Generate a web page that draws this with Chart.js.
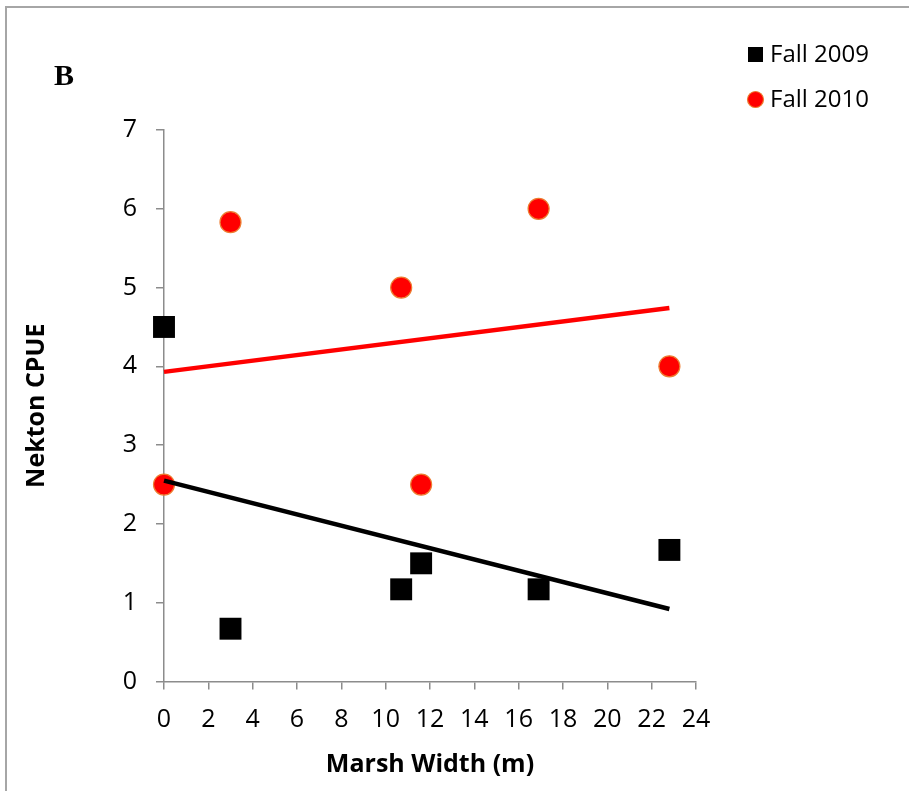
<!DOCTYPE html>
<html>
<head>
<meta charset="utf-8">
<title>Nekton CPUE vs Marsh Width</title>
<script src="https://cdn.jsdelivr.net/npm/chart.js@4.4.1/dist/chart.umd.min.js"></script>
<style>
    body { margin: 0; background: #fff; }
    #wrap { position: relative; width: 909px; height: 791px; }
</style>
</head>
<body>
<div id="wrap"><canvas id="chart" width="909" height="791"></canvas></div>
<script>
// Data
const width2009 = [0, 3, 10.7, 11.6, 16.9, 22.8];
const cpue2009 = [4.5, 0.67, 1.17, 1.5, 1.17, 1.67];
const width2010 = [0, 3, 10.7, 11.6, 16.9, 22.8];
const cpue2010 = [2.5, 5.83, 5, 2.5, 6, 4];

// Trend line end points
const trendX = [0, 22.8];
const trend2009 = [2.55, 0.92];
const trend2010 = [3.93, 4.74];

const seriesNames = ['Fall 2009', 'Fall 2010'];
const xTicks = [0, 2, 4, 6, 8, 10, 12, 14, 16, 18, 20, 22, 24];
const yTicks = [0, 1, 2, 3, 4, 5, 6, 7];

const axisGray = '#8c8c8c';
const tickFont = { family: '"Open Sans", sans-serif', size: 25 };
const titleFont = { family: '"Open Sans", sans-serif', size: 25, weight: 'bold' };

function toPoints(xs, ys) {
    return xs.map((x, i) => ({ x: x, y: ys[i] }));
}

// Frame, panel letter and legend
const decorPlugin = {
    id: 'decor',
    beforeDraw(chart) {
        const ctx = chart.ctx;
        ctx.save();
        ctx.strokeStyle = '#a6a6a6';
        ctx.lineWidth = 2;
        ctx.strokeRect(6, 7, 1000, 1000);
        ctx.restore();
    },
    afterDraw(chart) {
        const ctx = chart.ctx;
        ctx.save();
        ctx.fillStyle = '#000';
        ctx.font = 'bold 30px "Liberation Serif", serif';
        ctx.textBaseline = 'middle';
        ctx.fillText('B', 54, 77);

        // legend
        ctx.font = '24px "Open Sans", sans-serif';
        ctx.fillRect(748, 47, 15, 15);
        ctx.fillText(seriesNames[0], 770, 55);

        ctx.beginPath();
        ctx.arc(755.5, 99.5, 8, 0, Math.PI * 2);
        ctx.fillStyle = '#ff0000';
        ctx.fill();
        ctx.strokeStyle = '#ed7d31';
        ctx.lineWidth = 1.2;
        ctx.stroke();
        ctx.fillStyle = '#000';
        ctx.fillText(seriesNames[1], 770, 100);
        ctx.restore();
    }
};

const ctx = document.getElementById('chart').getContext('2d');
new Chart(ctx, {
    type: 'scatter',
    data: {
        datasets: [
            {
                label: 'Trend 2009',
                type: 'line',
                data: toPoints(trendX, trend2009),
                borderColor: '#000',
                borderWidth: 4.5,
                pointRadius: 0,
                showLine: true,
                clip: false,
                order: 0
            },
            {
                label: 'Trend 2010',
                type: 'line',
                data: toPoints(trendX, trend2010),
                borderColor: '#ff0000',
                borderWidth: 4.5,
                pointRadius: 0,
                showLine: true,
                clip: false,
                order: 0
            },
            {
                label: seriesNames[0],
                data: toPoints(width2009, cpue2009),
                pointStyle: 'rect',
                pointRadius: 15.5,
                pointHoverRadius: 15.5,
                backgroundColor: '#000',
                borderColor: '#000',
                borderWidth: 0,
                clip: false,
                order: 1
            },
            {
                label: seriesNames[1],
                data: toPoints(width2010, cpue2010),
                pointStyle: 'circle',
                pointRadius: 10.5,
                pointHoverRadius: 10.5,
                backgroundColor: '#ff0000',
                borderColor: '#ed7d31',
                borderWidth: 1.2,
                clip: false,
                order: 1
            }
        ]
    },
    options: {
        responsive: false,
        animation: false,
        layout: { padding: { left: 0, right: 213, top: 130, bottom: 0 } },
        plugins: {
            legend: { display: false },
            tooltip: { enabled: false }
        },
        scales: {
            x: {
                type: 'linear',
                min: 0,
                max: 24,
                afterFit: (scale) => { scale.height = 109.5; },
                afterBuildTicks: (scale) => { scale.ticks = xTicks.map(v => ({ value: v })); },
                grid: { drawOnChartArea: false, drawTicks: true, tickLength: 8, color: axisGray, lineWidth: 1.5 },
                border: { color: axisGray, width: 1.5 },
                ticks: { font: tickFont, color: '#000', padding: 15, maxRotation: 0, autoSkip: false },
                title: { display: true, text: 'Marsh Width (m)', font: titleFont, color: '#000', padding: { top: 0, bottom: 11 } }
            },
            y: {
                type: 'linear',
                min: 0,
                max: 7,
                afterFit: (scale) => { scale.width = 164; },
                afterBuildTicks: (scale) => { scale.ticks = yTicks.map(v => ({ value: v })); },
                grid: { drawOnChartArea: false, drawTicks: true, tickLength: 8, color: axisGray, lineWidth: 1.5 },
                border: { color: axisGray, width: 1.5 },
                ticks: { font: tickFont, color: '#000', padding: 19 },
                title: { display: true, text: 'Nekton CPUE', font: titleFont, color: '#000', padding: { top: 22, bottom: 0 } }
            }
        }
    },
    plugins: [decorPlugin]
});
</script>
</body>
</html>
